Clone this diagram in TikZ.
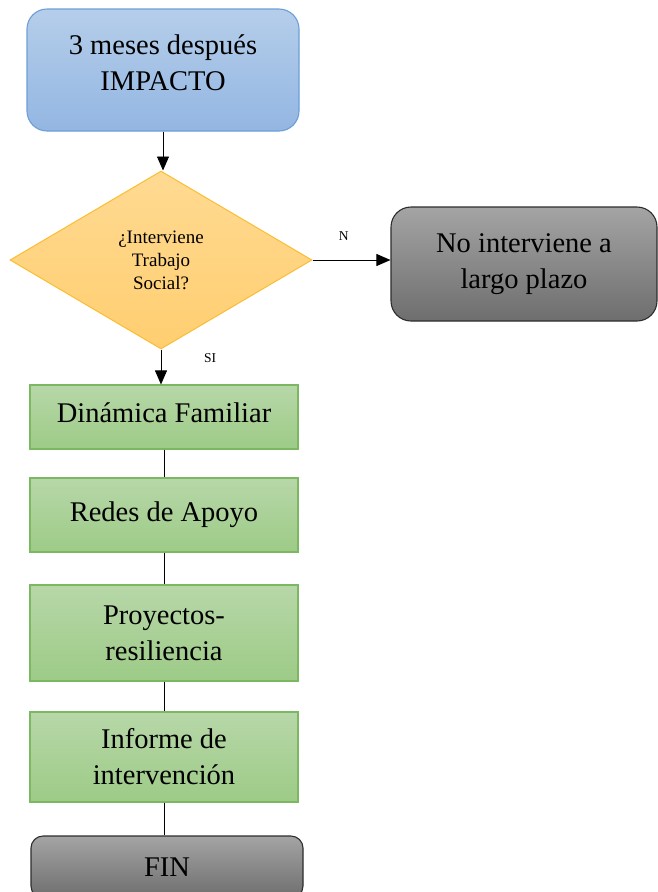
\documentclass[tikz,border=0pt]{standalone}
\usepackage{fontspec}
\setmainfont{Liberation Serif}
\usetikzlibrary{shapes.geometric,arrows.meta}

\begin{document}
\begin{tikzpicture}[x=1pt,y=1pt,
		caja/.style={draw=verdeborde,line width=1.1pt,top color=verdearriba,bottom color=verdeabajo,
			minimum width=268pt,align=center,inner sep=0pt,font=\fontsize{28.5}{36}\selectfont},
		terminal/.style={draw=grisborde,line width=1.1pt,top color=grisarriba,bottom color=grisabajo,
			rounded corners=#1,align=center,inner sep=0pt,font=\fontsize{28.5}{36}\selectfont},
		flecha/.style={-{Triangle[length=14pt,width=12pt]},line width=0.9pt},
		enlace/.style={line width=0.9pt},
		etiqueta/.style={font=\fontsize{13.5}{15}\selectfont,inner sep=0pt}]
		%%% Colores
		\definecolor{azularriba}{RGB}{181,206,234}
		\definecolor{azulabajo}{RGB}{147,182,226}
		\definecolor{azulborde}{RGB}{109,158,216}
		\definecolor{amarillo1}{RGB}{255,218,146}
		\definecolor{amarillo2}{RGB}{255,206,112}
		\definecolor{amarilloborde}{RGB}{250,189,51}
		\definecolor{grisarriba}{RGB}{164,164,164}
		\definecolor{grisabajo}{RGB}{110,110,110}
		\definecolor{grisborde}{RGB}{45,45,45}
		\definecolor{verdearriba}{RGB}{183,215,168}
		\definecolor{verdeabajo}{RGB}{157,203,135}
		\definecolor{verdeborde}{RGB}{124,183,97}

		\useasboundingbox (0,0) rectangle (658,-892);

		%%% Inicio y decisión
		\node[draw=azulborde,line width=1.1pt,top color=azularriba,bottom color=azulabajo,
			rounded corners=20pt,minimum width=272pt,minimum height=122pt,align=center,text depth=15pt,
			font=\fontsize{28.5}{36}\selectfont] (impacto) at (163,-70) {3 meses después\\IMPACTO};
		\node[diamond,draw=amarilloborde,line width=1pt,top color=amarillo1,bottom color=amarillo2,
			minimum width=302pt,minimum height=178pt,inner sep=0pt,align=center,
			font=\fontsize{19}{23}\selectfont] (pregunta) at (161,-260) {¿Interviene\\Trabajo\\Social?};
		\node[terminal=20pt,minimum width=266pt,minimum height=114pt] (nointerv) at (524,-264) {No interviene a\\largo plazo};

		%%% Pasos de la intervención
		\node[caja,minimum height=64pt,text depth=8pt] (dinamica) at (164,-417) {Dinámica Familiar};
		\node[caja,minimum height=74pt] (redes) at (164,-515) {Redes de Apoyo};
		\node[caja,minimum height=96pt] (proyectos) at (164,-633) {Proyectos-\\resiliencia};
		\node[caja,minimum height=90pt] (informe) at (164,-757) {Informe de\\intervención};
		\node[terminal=12pt,minimum width=272pt,minimum height=62pt] (fin) at (167,-867) {FIN};

		%%% Conectores
		\draw[flecha] (impacto.south) -- (impacto.south |- pregunta.north);
		\draw[flecha] (pregunta.east) -- node[etiqueta,pos=0.4,yshift=24pt] {N} (pregunta.east -| nointerv.west);
		\draw[flecha] (pregunta.south) -- node[etiqueta,pos=0.25,xshift=49pt] {SI} (pregunta.south |- dinamica.north);
		\draw[enlace] (dinamica) -- (redes);
		\draw[enlace] (redes) -- (proyectos);
		\draw[enlace] (proyectos) -- (informe);
		\draw[enlace] (informe.south) -- (informe.south |- fin.north);
	\end{tikzpicture}
\end{document}
